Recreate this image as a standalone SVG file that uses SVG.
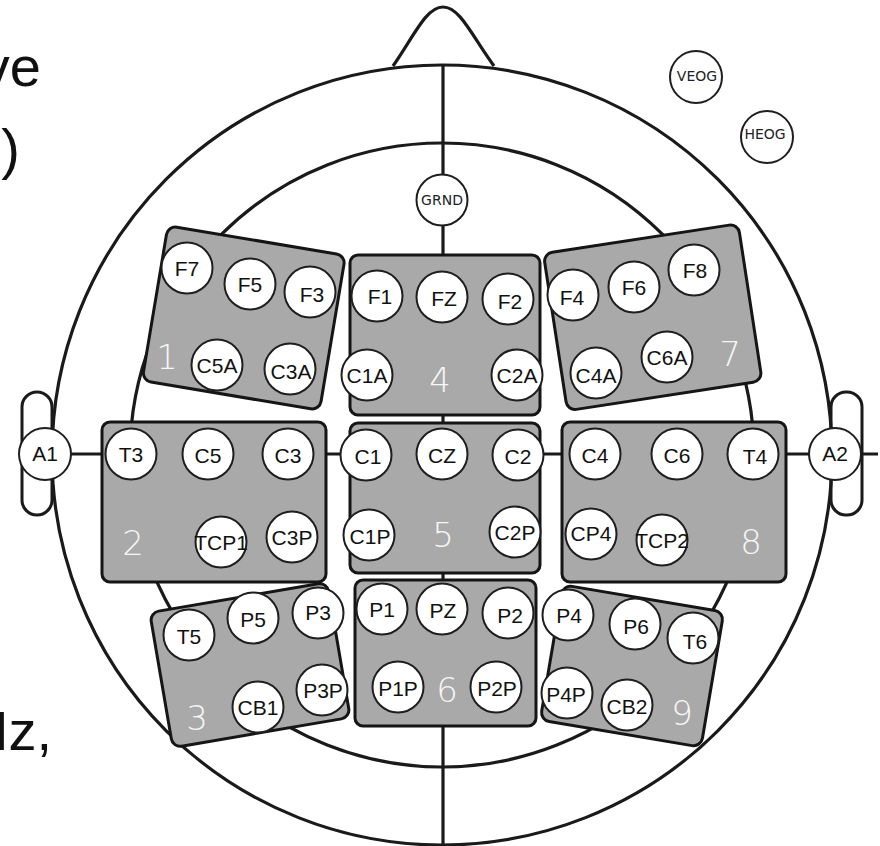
<svg xmlns="http://www.w3.org/2000/svg" width="880" height="846" viewBox="0 0 880 846">
<style>
.ln{fill:none;stroke:#1a1a1a;stroke-width:3.2}
.box{fill:#a9a9a9;stroke:#151515;stroke-width:3}
.el{fill:#fff;stroke:#1e1e1e;stroke-width:2}
.lb{font-family:"Liberation Sans",Arial,sans-serif;font-size:21px;fill:#111;text-anchor:middle;dominant-baseline:central}
.sm{font-family:"DejaVu Sans",sans-serif;font-size:14px;fill:#222;text-anchor:middle;dominant-baseline:central}
.num{font-family:"DejaVu Sans",sans-serif;font-size:34px;fill:#f6f6f6;text-anchor:middle;dominant-baseline:central;font-weight:300}
.big{font-family:"Liberation Sans",Arial,sans-serif;font-size:56px;fill:#111;text-anchor:end}
</style>
<rect width="880" height="846" fill="#fff"/>
<g id="side-text">
<text class="big" x="41" y="86">ve</text>
<text class="big" x="20" y="168">)</text>
<text class="big" x="52" y="750">Hz,</text>
</g>
<g id="head">
<rect x="22" y="392" width="30" height="123" rx="15" fill="#fff" stroke="#1a1a1a" stroke-width="3"/>
<rect x="831" y="392" width="31" height="123" rx="15" fill="#fff" stroke="#1a1a1a" stroke-width="3"/>
<circle class="ln" cx="442" cy="455" r="390"/>
<circle class="ln" cx="442" cy="455" r="312"/>
<path class="ln" d="M393,66 C414,36 426,7 443,7 C460,7 472,36 494,66"/>
</g>
<g id="connectors">
<line class="ln" x1="443" y1="65" x2="443" y2="846"/>
<line class="ln" x1="45" y1="454" x2="878" y2="454"/>
</g>
<g id="group1">
<rect class="box" x="153.75" y="239.5" width="180" height="157" rx="9" transform="rotate(9.5 243.75 318)"/>
<text class="num" x="167" y="357">1</text>
</g>
<g id="group7">
<rect class="box" x="554.25" y="237.75" width="197" height="159" rx="9" transform="rotate(-8.7 652.75 317.25)"/>
<text class="num" x="730" y="354">7</text>
</g>
<g id="group4">
<rect class="box" x="350" y="255" width="190" height="160" rx="8"/>
<text class="num" x="440" y="380">4</text>
</g>
<g id="group2">
<rect class="box" x="102" y="422" width="224" height="160" rx="8"/>
<text class="num" x="133" y="543">2</text>
</g>
<g id="group5">
<rect class="box" x="350" y="423" width="190" height="150" rx="8"/>
<text class="num" x="443" y="535">5</text>
</g>
<g id="group8">
<rect class="box" x="562" y="422" width="224" height="160" rx="8"/>
<text class="num" x="751" y="542">8</text>
</g>
<g id="group3">
<rect class="box" x="160" y="596.5" width="180" height="137" rx="9" transform="rotate(-9.7 250 665)"/>
<text class="num" x="197" y="718">3</text>
</g>
<g id="group6">
<rect class="box" x="355" y="580" width="181" height="146" rx="8"/>
<text class="num" x="447" y="690">6</text>
</g>
<g id="group9">
<rect class="box" x="550.5" y="597.5" width="163" height="137" rx="9" transform="rotate(9.6 632 666)"/>
<text class="num" x="682" y="713">9</text>
</g>
<g id="electrodes">
<g id="e-GRND"><circle class="el" cx="442" cy="200" r="25.5"/><text class="sm" x="442" y="200">GRND</text></g>
<g id="e-VEOG"><circle class="el" cx="696" cy="77" r="26"/><text class="sm" x="697" y="76">VEOG</text></g>
<g id="e-HEOG"><circle class="el" cx="767" cy="137" r="26"/><text class="sm" x="765" y="134">HEOG</text></g>
<g id="e-A1"><circle class="el" cx="45" cy="454" r="26"/><text class="lb" x="45" y="453">A1</text></g>
<g id="e-A2"><circle class="el" cx="835" cy="454" r="26"/><text class="lb" x="835" y="453">A2</text></g>
<g id="e-F7"><circle class="el" cx="187" cy="268" r="25.5"/><text class="lb" x="187" y="268">F7</text></g>
<g id="e-F5"><circle class="el" cx="250" cy="284" r="25.5"/><text class="lb" x="250" y="284">F5</text></g>
<g id="e-F3"><circle class="el" cx="310" cy="292" r="25.5"/><text class="lb" x="312" y="294">F3</text></g>
<g id="e-C5A"><circle class="el" cx="217" cy="365" r="25.5"/><text class="lb" x="217" y="365">C5A</text></g>
<g id="e-C3A"><circle class="el" cx="290" cy="369" r="25.5"/><text class="lb" x="291" y="371">C3A</text></g>
<g id="e-F1"><circle class="el" cx="377" cy="296" r="25.5"/><text class="lb" x="380" y="296">F1</text></g>
<g id="e-FZ"><circle class="el" cx="442" cy="297" r="25.5"/><text class="lb" x="444" y="298">FZ</text></g>
<g id="e-F2"><circle class="el" cx="508" cy="299" r="25.5"/><text class="lb" x="510" y="301">F2</text></g>
<g id="e-C1A"><circle class="el" cx="367" cy="375" r="25.5"/><text class="lb" x="367" y="375">C1A</text></g>
<g id="e-C2A"><circle class="el" cx="517" cy="375" r="25.5"/><text class="lb" x="517" y="375">C2A</text></g>
<g id="e-F4"><circle class="el" cx="573" cy="295" r="25.5"/><text class="lb" x="572" y="297">F4</text></g>
<g id="e-F6"><circle class="el" cx="634" cy="287" r="25.5"/><text class="lb" x="634" y="287">F6</text></g>
<g id="e-F8"><circle class="el" cx="694" cy="270" r="25.5"/><text class="lb" x="695" y="270">F8</text></g>
<g id="e-C4A"><circle class="el" cx="596" cy="373" r="25.5"/><text class="lb" x="596" y="375">C4A</text></g>
<g id="e-C6A"><circle class="el" cx="667" cy="357" r="25.5"/><text class="lb" x="667" y="357">C6A</text></g>
<g id="e-T3"><circle class="el" cx="131" cy="454" r="25.5"/><text class="lb" x="131" y="454">T3</text></g>
<g id="e-C5"><circle class="el" cx="208" cy="454" r="25.5"/><text class="lb" x="208" y="455">C5</text></g>
<g id="e-C3"><circle class="el" cx="288" cy="454" r="25.5"/><text class="lb" x="288" y="455">C3</text></g>
<g id="e-TCP1"><circle class="el" cx="221" cy="542" r="25.5"/><text class="lb" x="221" y="542">TCP1</text></g>
<g id="e-C3P"><circle class="el" cx="292" cy="537" r="25.5"/><text class="lb" x="292" y="537">C3P</text></g>
<g id="e-C1"><circle class="el" cx="366" cy="455" r="25.5"/><text class="lb" x="368" y="456">C1</text></g>
<g id="e-CZ"><circle class="el" cx="442" cy="454" r="25.5"/><text class="lb" x="442" y="455">CZ</text></g>
<g id="e-C2"><circle class="el" cx="518" cy="455" r="25.5"/><text class="lb" x="518" y="456">C2</text></g>
<g id="e-C1P"><circle class="el" cx="369" cy="535" r="25.5"/><text class="lb" x="370" y="536">C1P</text></g>
<g id="e-C2P"><circle class="el" cx="515" cy="532" r="25.5"/><text class="lb" x="515" y="532">C2P</text></g>
<g id="e-C4"><circle class="el" cx="595" cy="454" r="25.5"/><text class="lb" x="595" y="455">C4</text></g>
<g id="e-C6"><circle class="el" cx="677" cy="454" r="25.5"/><text class="lb" x="677" y="455">C6</text></g>
<g id="e-T4"><circle class="el" cx="753" cy="454" r="25.5"/><text class="lb" x="755" y="456">T4</text></g>
<g id="e-CP4"><circle class="el" cx="591" cy="534" r="25.5"/><text class="lb" x="591" y="533">CP4</text></g>
<g id="e-TCP2"><circle class="el" cx="662" cy="540" r="25.5"/><text class="lb" x="662" y="540">TCP2</text></g>
<g id="e-T5"><circle class="el" cx="189" cy="635" r="25.5"/><text class="lb" x="189" y="636">T5</text></g>
<g id="e-P5"><circle class="el" cx="253" cy="618" r="25.5"/><text class="lb" x="253" y="619">P5</text></g>
<g id="e-P3"><circle class="el" cx="318" cy="613" r="25.5"/><text class="lb" x="318" y="612">P3</text></g>
<g id="e-CB1"><circle class="el" cx="258" cy="707" r="25.5"/><text class="lb" x="258" y="707">CB1</text></g>
<g id="e-P3P"><circle class="el" cx="322" cy="690" r="25.5"/><text class="lb" x="323" y="690">P3P</text></g>
<g id="e-P1"><circle class="el" cx="382" cy="609" r="25.5"/><text class="lb" x="382" y="609">P1</text></g>
<g id="e-PZ"><circle class="el" cx="442" cy="609" r="25.5"/><text class="lb" x="443" y="610">PZ</text></g>
<g id="e-P2"><circle class="el" cx="508" cy="613" r="25.5"/><text class="lb" x="510" y="615">P2</text></g>
<g id="e-P1P"><circle class="el" cx="398" cy="687" r="25.5"/><text class="lb" x="398" y="688">P1P</text></g>
<g id="e-P2P"><circle class="el" cx="496" cy="687" r="25.5"/><text class="lb" x="497" y="688">P2P</text></g>
<g id="e-P4"><circle class="el" cx="568" cy="615" r="25.5"/><text class="lb" x="569" y="615">P4</text></g>
<g id="e-P6"><circle class="el" cx="635" cy="624" r="25.5"/><text class="lb" x="636" y="626">P6</text></g>
<g id="e-T6"><circle class="el" cx="693" cy="638" r="25.5"/><text class="lb" x="695" y="641">T6</text></g>
<g id="e-P4P"><circle class="el" cx="567" cy="693" r="25.5"/><text class="lb" x="566" y="694">P4P</text></g>
<g id="e-CB2"><circle class="el" cx="627" cy="705" r="25.5"/><text class="lb" x="627" y="706">CB2</text></g>
</g>
</svg>
